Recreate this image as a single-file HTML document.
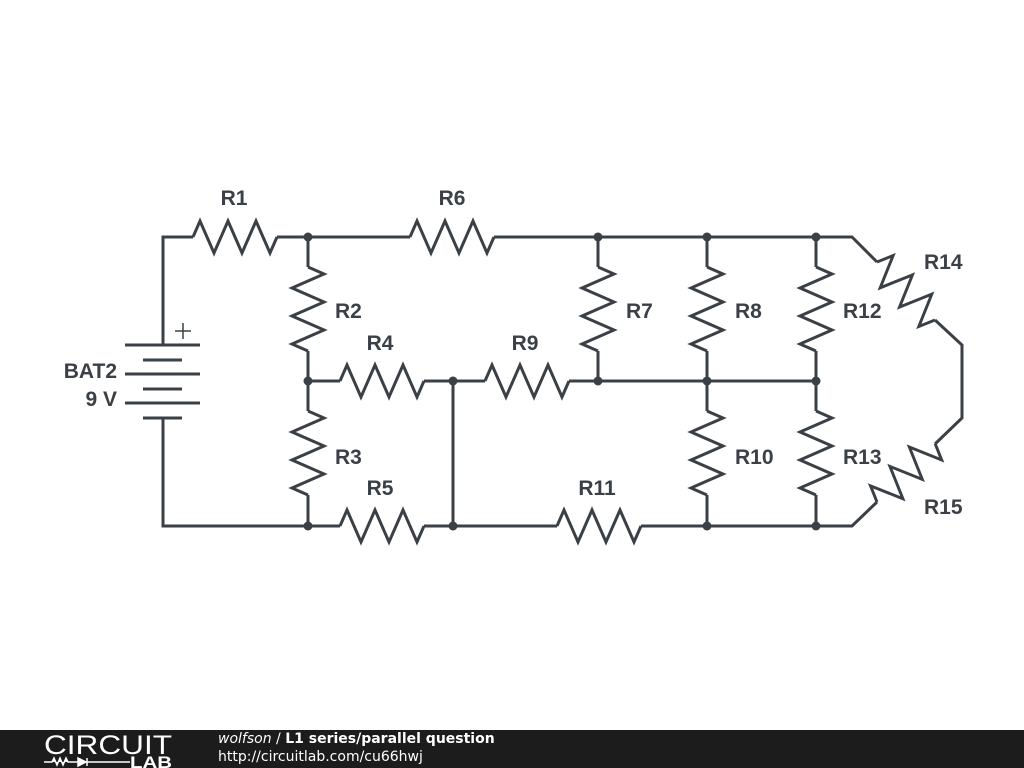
<!DOCTYPE html>
<html><head><meta charset="utf-8"><style>
html,body{margin:0;padding:0;background:#fff;}
body{width:1024px;height:768px;position:relative;overflow:hidden;font-family:"Liberation Sans",sans-serif;}
.foot{position:absolute;left:0;top:730px;width:1024px;height:38px;background:#1c1c1c;}
</style></head><body>
<svg width="1024" height="768" style="position:absolute;left:0;top:0">
<defs>
<path id="r" d="M0,0 L7,-16 L21,16 L35,-16 L49,16 L63,-16 L77,16 L84,0" fill="none"/>
</defs>
<g stroke="#3a4045" stroke-width="3" fill="none" stroke-linejoin="miter">
<path d="M163,345 V237 H193 M277,237 H410 M494,237 H852 L877,262 M935,320 L962,345 V418 L935,444 M877,502 L852,526 H641 M557,526 H424 M340,526 H163 V418"/>
<use href="#r" transform="translate(193,237)"/>
<use href="#r" transform="translate(410,237)"/>
<use href="#r" transform="translate(877,262) rotate(45) scale(0.976,1)"/>
<use href="#r" transform="translate(877,502) rotate(-45) scale(0.98,1)"/>
<path d="M308,381 H340 M424,381 H485 M569,381 H816 M453,381 V526"/>
<use href="#r" transform="translate(340,381)"/>
<use href="#r" transform="translate(485,381)"/>
<use href="#r" transform="translate(557,526)"/>
<use href="#r" transform="translate(340,526)"/>
<path d="M308,237 V267 M308,351 V411 M308,495 V526 M598,237 V267 M598,351 V381 M707,237 V267 M707,351 V411 M707,495 V526 M816,237 V267 M816,351 V411 M816,495 V526"/>
<use href="#r" transform="translate(308,267) rotate(90)"/>
<use href="#r" transform="translate(308,411) rotate(90)"/>
<use href="#r" transform="translate(598,267) rotate(90)"/>
<use href="#r" transform="translate(707,267) rotate(90)"/>
<use href="#r" transform="translate(707,411) rotate(90)"/>
<use href="#r" transform="translate(816,267) rotate(90)"/>
<use href="#r" transform="translate(816,411) rotate(90)"/>
<path d="M125,345 H200 M143,360 H182 M125,374 H200 M143,389 H182 M125,403 H200 M143,418 H182"/>
<path d="M183,323 V339 M175,331 H191" stroke-width="1.5"/>
</g>
<g fill="#3a4045">
<circle cx="308" cy="237" r="4.5"/><circle cx="598" cy="237" r="4.5"/><circle cx="707" cy="237" r="4.5"/><circle cx="816" cy="237" r="4.5"/>
<circle cx="308" cy="381" r="4.5"/><circle cx="453" cy="381" r="4.5"/><circle cx="598" cy="381" r="4.5"/><circle cx="707" cy="381" r="4.5"/><circle cx="816" cy="381" r="4.5"/>
<circle cx="308" cy="526" r="4.5"/><circle cx="453" cy="526" r="4.5"/><circle cx="707" cy="526" r="4.5"/><circle cx="816" cy="526" r="4.5"/>
</g>
<g fill="#3a4045" font-family="Liberation Sans, sans-serif" font-weight="bold" font-size="21">
<text x="234" y="205" text-anchor="middle">R1</text>
<text x="452" y="205" text-anchor="middle">R6</text>
<text x="335" y="318">R2</text>
<text x="626" y="318">R7</text>
<text x="735" y="318">R8</text>
<text x="843" y="318">R12</text>
<text x="380" y="350" text-anchor="middle">R4</text>
<text x="525" y="350" text-anchor="middle">R9</text>
<text x="335" y="464">R3</text>
<text x="735" y="464">R10</text>
<text x="843" y="464">R13</text>
<text x="380" y="495" text-anchor="middle">R5</text>
<text x="597" y="495" text-anchor="middle">R11</text>
<text x="924" y="269">R14</text>
<text x="924" y="514">R15</text>
<text x="117" y="378" text-anchor="end">BAT2</text>
<text x="117" y="406" text-anchor="end">9 V</text>
</g>
</svg>
<div class="foot">
<svg width="200" height="38" style="position:absolute;left:0;top:0">
<text x="44" y="24" fill="#fff" font-family="Liberation Sans, sans-serif" font-size="27" textLength="128" lengthAdjust="spacingAndGlyphs">CIRCUIT</text>
<path d="M44,32 H52 L54,28 L57,35 L60,28 L63,35 L66,28 L68,32 H78 M78,28 L86,32 L78,36 Z M87,28 V36 M87,32 H130" stroke="#fff" stroke-width="1.5" fill="#fff"/>
<text x="130" y="38" fill="#fff" font-family="Liberation Sans, sans-serif" font-weight="bold" font-size="17" textLength="42" lengthAdjust="spacingAndGlyphs">LAB</text>
</svg>
<div style="position:absolute;left:218px;top:1px;color:#fff;font-size:14px;font-family:'DejaVu Sans',sans-serif;white-space:nowrap"><i>wolfson</i> / <b>L1 series/parallel question</b></div>
<div style="position:absolute;left:218px;top:19px;color:#fff;font-size:14px;font-family:'DejaVu Sans',sans-serif;white-space:nowrap">http://circuitlab.com/cu66hwj</div>
</div>
</body></html>
